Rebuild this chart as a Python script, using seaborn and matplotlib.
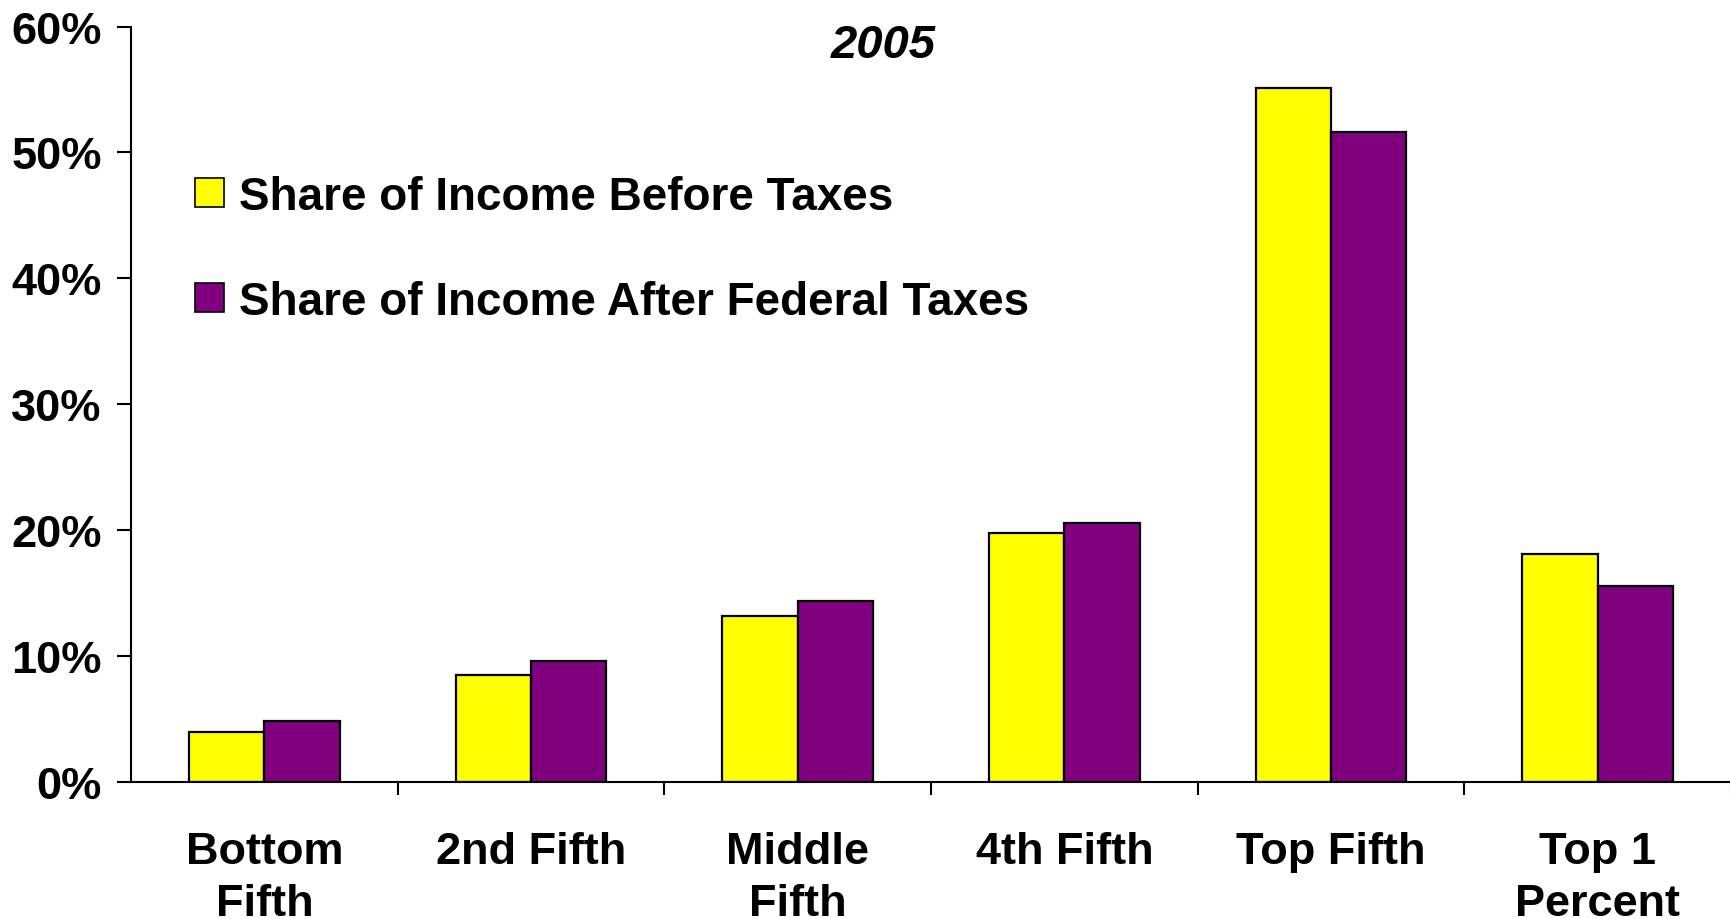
import matplotlib
matplotlib.use("Agg")
import matplotlib.pyplot as plt
import matplotlib.ticker as mticker
import seaborn as sns
import pandas as pd

# Income share by income group, 2005 (percent)
groups = ["Bottom\nFifth", "2nd Fifth", "Middle\nFifth", "4th Fifth", "Top Fifth", "Top 1\nPercent"]
before_tax = [4.0, 8.5, 13.2, 19.8, 55.1, 18.1]
after_tax = [4.8, 9.6, 14.4, 20.6, 51.6, 15.6]
series_names = ["Share of Income Before Taxes", "Share of Income After Federal Taxes"]
yticks = [0, 10, 20, 30, 40, 50, 60]
title = "2005"

df = pd.DataFrame({
    "group": groups * 2,
    "share": before_tax + after_tax,
    "series": [series_names[0]] * len(groups) + [series_names[1]] * len(groups),
})

sns.set_theme(style="white")
plt.rcParams["font.family"] = ["Liberation Sans", "DejaVu Sans"]
plt.rcParams["font.weight"] = "bold"
plt.rcParams["text.color"] = "black"
plt.rcParams["xtick.color"] = "black"
plt.rcParams["ytick.color"] = "black"

FS = 32.5
fig = plt.figure(figsize=(17.31, 9.2), dpi=100)
ax = fig.add_axes([0.0757, 0.149, 0.9243, 0.821])

sns.barplot(
    data=df, x="group", y="share", hue="series",
    palette=["#FFFF00", "#800080"], saturation=1,
    edgecolor="black", linewidth=1.6, width=0.566, ax=ax,
)

ax.set_xlim(-0.5, 5.5)
ax.set_ylim(0, 60)
ax.set_yticks(yticks)
ax.yaxis.set_major_formatter(mticker.FuncFormatter(lambda v, p: f"{v:.0f}%"))
ax.set_xlabel("")
ax.set_ylabel("")

for s in ["top", "right"]:
    ax.spines[s].set_visible(False)
for s in ["left", "bottom"]:
    ax.spines[s].set_color("black")
    ax.spines[s].set_linewidth(1.5)

ax.tick_params(axis="y", which="major", direction="out", length=10, width=1.5,
               color="black", labelcolor="black", pad=11, labelsize=FS, left=True)
ax.tick_params(axis="x", which="major", length=0, pad=35, labelsize=FS,
               labelcolor="black")
ax.set_xticks(range(len(groups)))
ax.set_xticklabels(groups, fontsize=FS, fontweight="bold", linespacing=1.36,
                   va="top", color="black")
ax.set_xticks([i + 0.5 for i in range(len(groups))], minor=True)
ax.tick_params(axis="x", which="minor", direction="out", length=9.5, width=1.5,
               color="black", bottom=True)
for lab in ax.get_yticklabels():
    lab.set_fontweight("bold")
    lab.set_color("black")

handles, labels = ax.get_legend_handles_labels()
for h in handles:
    h.set_edgecolor("black")
    h.set_linewidth(1.2)
leg = ax.legend(
    handles, labels, loc="upper left", bbox_to_anchor=(0.1127, 0.809),
    bbox_transform=fig.transFigure, frameon=False, borderpad=0, borderaxespad=0,
    handlelength=0.62, handleheight=0.62, handletextpad=0.33, labelspacing=1.33,
    prop={"size": 33, "weight": "bold"},
)
for t in leg.get_texts():
    t.set_color("black")

fig.text(0.510, 0.950, title, ha="center", va="center", fontsize=34,
         fontweight="bold", fontstyle="italic", color="black")

fig.savefig("out.png", dpi=100, facecolor="white")
